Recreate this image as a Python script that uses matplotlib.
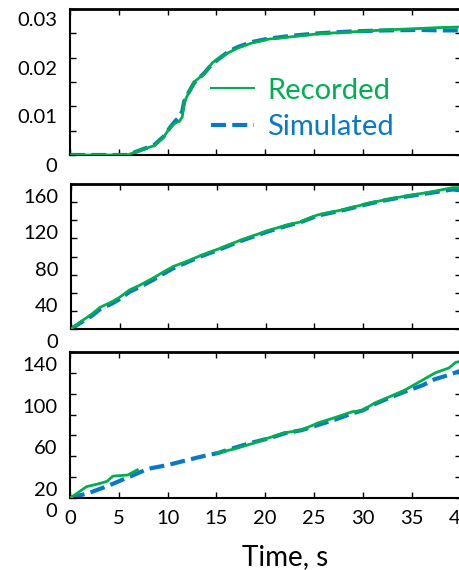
import numpy as np
import matplotlib
matplotlib.use("Agg")
import matplotlib.pyplot as plt
import matplotlib.transforms as mtransforms

plt.rcParams['font.family'] = ['Lato', 'DejaVu Sans']

green = "#00B050"
blue = "#0A78C8"

# panel 1
t1_rec = [0, 3, 5.9, 7.2, 8.6, 9.6, 10.3, 10.8, 11.2, 11.5, 11.7, 12.2, 12.7, 13.2, 13.7, 14.6, 15.4,
          16.2, 17.2, 18.6, 20.3, 22.7, 25.4, 28.9, 32.3, 35.8, 38, 40]
y1_rec = [0, 0, 0, 0.001, 0.0019, 0.0037, 0.0058, 0.0066, 0.0069, 0.0078, 0.0108, 0.013, 0.015, 0.0158,
          0.0166, 0.019, 0.020, 0.021, 0.022, 0.023, 0.0238, 0.0243, 0.0249, 0.0253, 0.0257, 0.026, 0.0262, 0.0263]
t1_sim = t1_rec
y1_sim = [0, 0, 0, 0.001, 0.002, 0.0038, 0.0058, 0.007, 0.0078, 0.009, 0.011, 0.013, 0.0148, 0.0158,
          0.0167, 0.0188, 0.020, 0.0212, 0.0222, 0.0232, 0.0239, 0.0245, 0.025, 0.0254, 0.0256, 0.0257, 0.0256, 0.0256]

# panel 2
t2_rec = [0, 1, 2.2, 3, 4.2, 5, 6.0, 7, 8.4, 9.5, 10.5, 12, 13.3, 15.3, 17.4, 20.2, 22.2, 23.5, 25.3,
          28.1, 30.5, 32, 34, 37.1, 39.2, 40]
y2_rec = [0, 8, 17, 24, 30, 35, 43, 48, 56, 63, 69, 75, 81, 89, 98, 108.5, 114.8, 118, 125.8,
          132, 138.7, 142, 146, 151.5, 156, 156]
t2_sim = t2_rec
y2_sim = [0, 7, 15, 22, 28, 33, 41, 46, 54, 61, 67, 74, 80, 88, 97, 107.5, 114, 117.5, 125,
          131.5, 138, 141.5, 145.5, 150.5, 154, 153]

# panel 3 (recorded has a gap)
t3_rec = [0, 0.8, 1.7, 3.1, 3.8, 4.4, 5.9, 6.9, 7.2, 15, 16.8, 18.6, 20.3, 22, 23.7, 25.4, 27.1,
          28.9, 29.9, 31.2, 32.7, 34.3, 36.1, 37.4, 38.8, 39.5, 40]
y3_rec = [0, 5, 10.9, 14, 16, 21, 22, 27, np.nan, 43, 47, 52, 57.5, 62.6, 65, 72, 77,
          82.7, 83.7, 91, 97, 103.5, 113, 120, 124.6, 130, 131]
t3_sim = [0, 2, 4, 6, 8, 10, 13.4, 15.1, 16.8, 18.6, 20.3, 22, 23.7, 25.4, 27.1, 28.9, 30, 31.2,
          32.7, 34.3, 36.1, 37.4, 38.8, 40]
y3_sim = [0, 5, 12, 20, 28, 31.6, 39.6, 43, 48, 53, 57, 62, 65, 70, 75, 81, 84, 90,
          96, 102, 108, 114, 118, 122]

x_ticks = [0, 5, 10, 15, 20, 25, 30, 35, 40]
x_labels = ["0", "5", "10", "15", "20", "25", "30", "35", "40"]

y1_ticks = [0, 0.005, 0.01, 0.015, 0.02, 0.025, 0.03]
y1_labels = ["0", "", "0.01", "", "0.02", "", "0.03"]
y2_ticks = [0, 20, 40, 60, 80, 100, 120, 140, 160]
y2_labels = ["0", "", "40", "", "80", "", "120", "", "160"]
y3_ticks = [0, 20, 40, 60, 80, 100, 120, 140]
y3_labels = ["0", "20", "", "60", "", "100", "", "140"]

W, H = 459, 570
fig = plt.figure(figsize=(W / 100, H / 100), dpi=100)


def make_ax(left, top, bottom):
    return fig.add_axes([left / W, 1 - bottom / H, (460.5 - left) / W, (bottom - top) / H])


panels = [
    (make_ax(70, 9, 155), t1_rec, y1_rec, t1_sim, y1_sim, (0, 0.03), y1_ticks, y1_labels, 10),
    (make_ax(71, 184, 329), t2_rec, y2_rec, t2_sim, y2_sim, (0, 160), y2_ticks, y2_labels, 12),
    (make_ax(70, 352, 498), t3_rec, y3_rec, t3_sim, y3_sim, (0, 140), y3_ticks, y3_labels, 12),
]

for i, (ax, tr, yr, ts, ys, ylim, yt, yl, shift) in enumerate(panels):
    ax.plot(tr, yr, color=green, lw=2.0, label="Recorded", zorder=3)
    ax.plot(ts, ys, color=blue, lw=3.0, dashes=(3.6, 1.5), label="Simulated", zorder=2)
    ax.set_xlim(0, 40)
    ax.set_ylim(*ylim)
    ax.set_xticks(x_ticks)
    ax.set_yticks(yt)
    ax.set_yticklabels(yl)
    if i == 2:
        ax.set_xticklabels(x_labels)
    else:
        ax.set_xticklabels([])
    ax.tick_params(direction="in", length=4, width=1, top=True, right=True,
                   labelsize=14.5, pad=9)
    for s in ax.spines.values():
        s.set_linewidth(1.5)
    ax.spines["top"].set_linewidth(2)
    off = mtransforms.ScaledTranslation(0, -shift / 100, fig.dpi_scale_trans)
    for lab in ax.get_yticklabels():
        lab.set_transform(lab.get_transform() + off)
    if i == 0:
        leg = ax.legend(loc="upper left", bbox_to_anchor=(0.36, 0.53), frameon=False,
                        fontsize=21, handlelength=1.5, handletextpad=0.45,
                        labelspacing=0.35, borderpad=0, borderaxespad=0)
        for txt, c in zip(leg.get_texts(), [green, blue]):
            txt.set_color(c)
        leg.get_lines()[0].set_linewidth(1.5)

fig.text(285 / W, 1 - 557 / H, "Time, s", fontsize=20, ha="center", va="center")

fig.savefig("out.png", dpi=100)
